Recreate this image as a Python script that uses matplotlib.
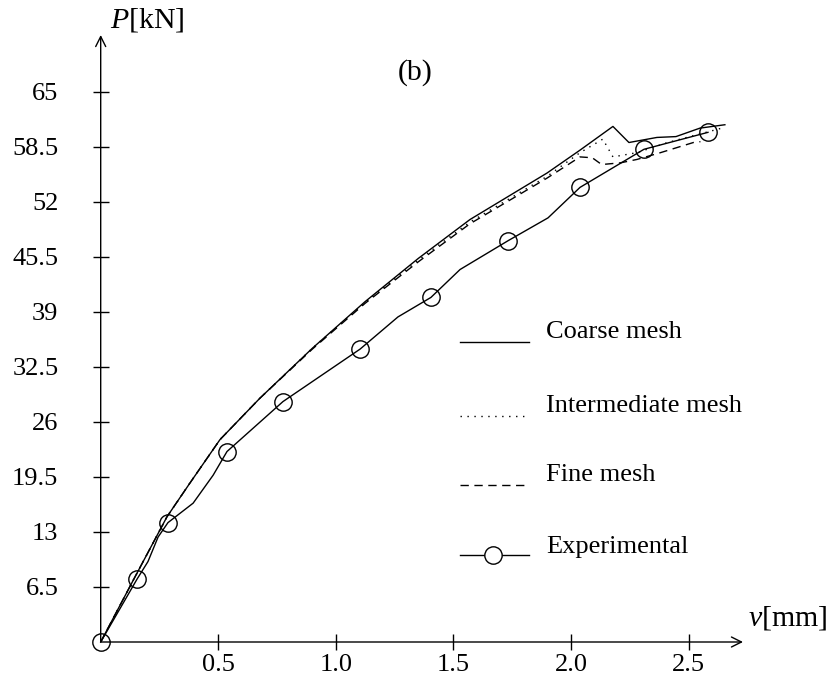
import matplotlib
matplotlib.use("Agg")
import matplotlib.pyplot as plt

plt.rcParams["font.family"] = ["Liberation Serif", "DejaVu Serif"]
plt.rcParams["mathtext.fontset"] = "custom"
plt.rcParams["mathtext.it"] = "Liberation Serif:italic"
plt.rcParams["mathtext.rm"] = "Liberation Serif"

# load-displacement curves (v in mm, P in kN)
coarse_v = [0.0, 0.146, 0.282, 0.380, 0.507, 0.677, 0.90, 1.124, 1.35, 1.570, 1.898, 2.038, 2.178,
            2.246, 2.365, 2.446, 2.548, 2.654]
coarse_p = [0.0, 7.7, 14.8, 18.8, 23.9, 28.8, 34.7, 40.2, 45.3, 49.9, 55.4, 58.1, 60.9,
            59.0, 59.6, 59.7, 60.7, 61.1]

inter_v = [0.0, 0.146, 0.282, 0.380, 0.507, 0.677, 0.90, 1.124, 1.35, 1.570, 1.898, 2.038, 2.135,
           2.178, 2.28, 2.41, 2.655]
inter_p = [0.0, 7.7, 14.8, 18.8, 23.9, 28.8, 34.7, 40.1, 45.1, 49.6, 55.0, 57.8, 59.4,
           57.3, 57.8, 59.0, 60.8]

fine_v = [0.0, 0.146, 0.282, 0.380, 0.507, 0.677, 0.90, 1.124, 1.35, 1.570, 1.898, 2.038, 2.09,
          2.13, 2.21, 2.28, 2.38, 2.52, 2.55]
fine_p = [0.0, 7.7, 14.8, 18.8, 23.9, 28.8, 34.6, 40.0, 44.9, 49.4, 54.8, 57.3, 57.2,
          56.4, 56.6, 57.0, 57.8, 59.0, 59.1]

exp_v = [0.0, 0.155, 0.201, 0.244, 0.286, 0.393, 0.478, 0.537, 0.775, 1.103, 1.264, 1.404,
         1.528, 1.732, 1.902, 2.038, 2.310, 2.582]
exp_p = [0.0, 7.45, 9.5, 12.4, 14.1, 16.4, 19.7, 22.5, 28.4, 34.6, 38.4, 40.7,
         44.0, 47.4, 50.1, 53.7, 58.2, 60.2]
exp_marker_idx = [0, 1, 4, 7, 8, 9, 11, 13, 15, 16, 17]

x_ticks = [0.5, 1.0, 1.5, 2.0, 2.5]
x_tick_labels = ["0.5", "1.0", "1.5", "2.0", "2.5"]
y_ticks = [6.5, 13, 19.5, 26, 32.5, 39, 45.5, 52, 58.5, 65]
y_tick_labels = ["6.5", "13", "19.5", "26", "32.5", "39", "45.5", "52", "58.5", "65"]

legend_names = ["Coarse mesh", "Intermediate mesh", "Fine mesh", "Experimental"]

W, H = 831, 677
fig = plt.figure(figsize=(W / 100, H / 100), dpi=100)
ax = fig.add_axes([100.7 / W, 35 / H, (743 - 100.7) / W, (642 - 35) / H])

lw = 1.0
ax.plot(coarse_v, coarse_p, color="black", lw=lw, ls="-")
ax.plot(inter_v, inter_p, color="black", lw=lw, ls=(0, (1, 4)))
ax.plot(fine_v, fine_p, color="black", lw=lw, ls=(0, (6, 4)))
ax.plot(exp_v, exp_p, color="black", lw=lw, marker="o", markevery=exp_marker_idx,
        ms=12.5, mfc="none", mec="black", mew=1.0, clip_on=False)

ax.set_xlim(0, 2.731)
ax.set_ylim(0, 71.7)
for side in ["top", "right", "left", "bottom"]:
    ax.spines[side].set_visible(False)

# axes with open arrow heads
for tip in [(1, 0), (0, 1)]:
    ax.annotate("", xy=tip, xytext=(0, 0), xycoords="axes fraction",
                arrowprops=dict(arrowstyle="->", lw=1.0, color="black", shrinkA=0, shrinkB=0,
                                mutation_scale=18))

ax.set_xticks(x_ticks)
ax.set_xticklabels(x_tick_labels)
ax.set_yticks(y_ticks)
ax.set_yticklabels(y_tick_labels)
ax.tick_params(axis="both", direction="inout", length=11, width=1.0, labelsize=19)
ax.tick_params(axis="x", pad=3)
ax.tick_params(axis="y", pad=25)

fig.text(110 / W, 1 - 20 / H, "$P$[kN]", fontsize=21.5, ha="left", va="center")
fig.text(748 / W, 1 - 618 / H, "$v$[mm]", fontsize=21.5, ha="left", va="center")
fig.text(415 / W, 1 - 73 / H, "(b)", fontsize=21.5, ha="center", va="center")

# hand-placed legend
legend_styles = [dict(ls="-"), dict(ls=(0, (1, 4))), dict(ls=(0, (6, 4))), dict(ls="-")]
line_rows = [342, 416, 485, 555]
text_rows = [332, 406, 475, 547]
for name, style, ly, ty in zip(legend_names, legend_styles, line_rows, text_rows):
    fig.add_artist(plt.Line2D([460 / W, 529 / W], [1 - ly / H, 1 - ly / H],
                              transform=fig.transFigure, color="black", lw=lw, **style))
    fig.text(546 / W, 1 - ty / H, name, fontsize=19, ha="left", va="center")
fig.add_artist(plt.Line2D([493 / W], [1 - 555 / H], transform=fig.transFigure,
                          marker="o", ms=12.5, mfc="white", mec="black", mew=1.0, ls="none"))

fig.savefig("out.png", dpi=100, facecolor="white")
